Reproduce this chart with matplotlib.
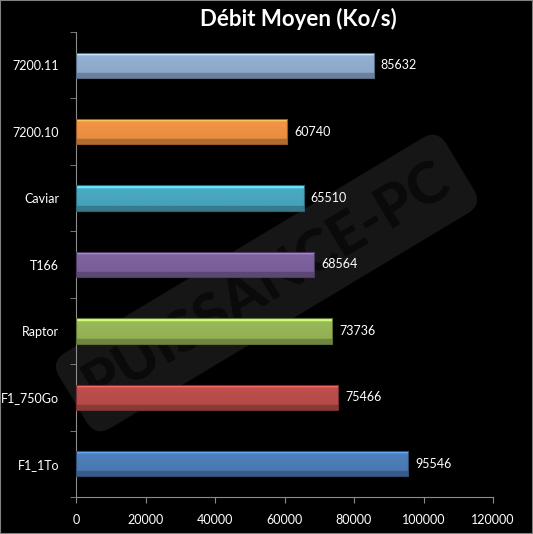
import matplotlib.pyplot as plt
import matplotlib.colors as mcolors
from matplotlib.patches import Rectangle
import numpy as np

# donnees (de bas en haut)
disques = ['F1_1To', 'F1_750Go', 'Raptor', 'T166', 'Caviar', '7200.10', '7200.11']
debits = [95546, 75466, 73736, 68564, 65510, 60740, 85632]
couleurs = ['#4F81BD', '#C0504D', '#9BBB59', '#8064A2', '#4BACC6', '#F79646', '#95B3D7']
xticks = [0, 20000, 40000, 60000, 80000, 100000, 120000]

plt.rcParams['font.family'] = ['Lato', 'DejaVu Sans']

fig = plt.figure(figsize=(5.33, 5.34), dpi=100, facecolor='black')
ax = fig.add_axes([76/533, 1-497/534, 417/533, 465/534])
ax.set_facecolor('black')
ax.patch.set_alpha(0)

# filigrane (sous le graphique)
fig.text(0.50, 0.47, 'PUISSANCE-PC', rotation=31, ha='center', va='center',
         fontsize=42, fontweight='black', color='#0a0a0a', zorder=-1,
         bbox=dict(boxstyle='round,pad=0.3', facecolor='#161616', edgecolor='none'))

y = np.arange(len(disques))
bars = ax.barh(y, debits, height=0.38, color=couleurs, zorder=3)

# degrade pour l'effet "verre"
for b, c in zip(bars, couleurs):
    base = np.array(mcolors.to_rgb(c))
    prof = np.linspace(0, 1, 40)
    shade = np.where(prof < 0.12, 1.35, np.where(prof < 0.8, 1.0 - 0.08*prof, 0.72))
    img = np.clip(base[None, :] * shade[:, None], 0, 1)[:, None, :]
    x0, y0, w, h = b.get_x(), b.get_y(), b.get_width(), b.get_height()
    b.set_facecolor('none')
    b.set_edgecolor([v*0.6 for v in base])
    b.set_linewidth(0.8)
    im = ax.imshow(img, extent=[x0, x0+w, y0, y0+h], origin='upper',
                   aspect='auto', zorder=2, interpolation='bilinear')
    im.set_clip_path(b)
    ax.text(x0 + w + 2000, y0 + h/2, str(int(w)), color='white',
            va='center', ha='left', fontsize=9)

ax.set_xlim(0, 120000)
ax.set_ylim(-0.5, len(disques) - 0.5)
ax.set_xticks(xticks)
ax.set_xticklabels([str(v) for v in xticks])
ax.set_yticks(y)
ax.set_yticklabels(disques)
ax.set_yticks(np.arange(-0.5, len(disques)), minor=True)

for s in ['top', 'right']:
    ax.spines[s].set_visible(False)
for s in ['left', 'bottom']:
    ax.spines[s].set_color('#8c8c8c')
ax.tick_params(axis='x', colors='white', labelsize=9, length=4, color='#8c8c8c', pad=8)
ax.tick_params(axis='y', which='major', colors='white', labelsize=9, length=0, pad=12)
ax.tick_params(axis='y', which='minor', length=4, color='#8c8c8c')

fig.text(298/533, 1-19/534, 'Débit Moyen (Ko/s)', color='white', fontsize=16,
         fontweight='bold', ha='center', va='center')

fig.patches.append(Rectangle((0, 0), 1, 1, transform=fig.transFigure,
                             fill=False, edgecolor='#808080', linewidth=1.5))

fig.savefig('out.png', dpi=100, facecolor='black')
